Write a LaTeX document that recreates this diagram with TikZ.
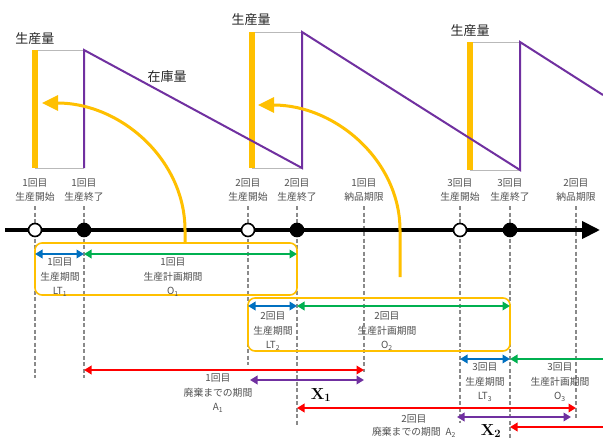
\documentclass[tikz,border=0pt]{standalone}
\usepackage{fontspec}
\newfontfamily\jp{Noto Sans CJK JP}
\usetikzlibrary{arrows.meta}
\definecolor{yel}{HTML}{FFC000}
\definecolor{pur}{HTML}{7030A0}
\definecolor{grn}{HTML}{00B050}
\definecolor{blu}{HTML}{0070C0}
\definecolor{rd}{HTML}{FF0000}
\definecolor{txtgray}{HTML}{505050}
\definecolor{qtygray}{HTML}{262626}
\definecolor{guidegray}{HTML}{8A8A8A}
\begin{document}
\begin{tikzpicture}[x=1pt,y=-1pt,
  lbl/.style={font=\jp\fontsize{9.8}{13.5}\selectfont, text=txtgray, align=center, inner sep=0pt},
  lbl3/.style={font=\jp\fontsize{9.8}{14.5}\selectfont, text=txtgray, align=center, inner sep=0pt},
  qty/.style={font=\jp\fontsize{13}{15}\selectfont, text=qtygray, inner sep=0pt},
  bigx/.style={font=\fontsize{16}{16}\selectfont\bfseries, text=black, inner sep=0pt},
  dot/.style={circle, draw=black, line width=1.6pt, minimum size=13pt, inner sep=0pt},
  opendot/.style={dot, fill=white},
  filldot/.style={dot, fill=black},
  guide/.style={draw=guidegray, line width=1.2pt, dash pattern=on 4pt off 2.5pt},
  bar/.style={draw=yel, line width=6pt},
  stock/.style={draw=pur, line width=2pt, line join=miter},
  thinline/.style={draw=gray!55, line width=0.8pt},
  span/.style={line width=2.5pt, {Triangle[length=7.5pt,width=8.5pt]}-{Triangle[length=7.5pt,width=8.5pt]}},
  lspan/.style={line width=2.5pt, -{Triangle[length=7.5pt,width=8.5pt]}},
  ybox/.style={draw=yel, line width=1.6pt, rounded corners=7pt},
  yarrow/.style={draw=yel, line width=3pt, -{Triangle[length=16pt,width=15pt]}},
]
\useasboundingbox[fill=white] (0,0) rectangle (603,439);

% ---------- top: production / stock graph ----------
\draw[thinline] (35,50) -- (84,50) (35,168) -- (84,168);
\draw[thinline] (252,32) -- (302,32) (252,168) -- (302,168);
\draw[thinline] (470,42) -- (520,42) (470,170) -- (520,170);
\draw[bar] (35,50) -- (35,168);
\draw[bar] (252,32) -- (252,168);
\draw[bar] (470,42) -- (470,170);
\draw[stock] (84,168) -- (84,50) -- (302,168) -- (302,32) -- (520,170) -- (520,42) -- (603,95);

\node[qty] (q1) at (35,39) {生産量};
\node[qty] (q2) at (251,20) {生産量};
\node[qty] (q3) at (470,31) {生産量};
\node[qty] (stk) at (167,77) {在庫量};

% ---------- labels above the axis ----------
\node[lbl] (t1) at (35,190) {1回目\\生産開始};
\node[lbl] (t2) at (84,190) {1回目\\生産終了};
\node[lbl] (t3) at (248,190) {2回目\\生産開始};
\node[lbl] (t4) at (297,190) {2回目\\生産終了};
\node[lbl] (t5) at (364,190) {1回目\\納品期限};
\node[lbl] (t6) at (460,190) {3回目\\生産開始};
\node[lbl] (t7) at (510,190) {3回目\\生産終了};
\node[lbl] (t8) at (576,190) {2回目\\納品期限};

% ---------- dashed guide lines ----------
\coordinate (g1a) at (35,206);  \coordinate (g1b) at (35,378);
\coordinate (g2a) at (84,206);  \coordinate (g2b) at (84,378);
\coordinate (g3a) at (248,206); \coordinate (g3b) at (248,365);
\coordinate (g4a) at (297,206); \coordinate (g4b) at (297,425);
\coordinate (g5a) at (364,206); \coordinate (g5b) at (364,372);
\coordinate (g6a) at (460,206); \coordinate (g6b) at (460,423);
\coordinate (g7a) at (510,206); \coordinate (g7b) at (510,439);
\coordinate (g8a) at (576,206); \coordinate (g8b) at (576,420);
\foreach \i in {1,...,8} { \draw[guide] (g\i a) -- (g\i b); }

% ---------- yellow boxes ----------
\draw[ybox] (35,243) rectangle (297,295);
\draw[ybox] (248,298) rectangle (510,351);

% ---------- time axis ----------
\coordinate (axs) at (5,230);
\coordinate (axe) at (600,230);
\draw[line width=4pt, -{Triangle[length=18pt,width=17pt]}] (axs) -- (axe);

\node[opendot] (d1) at (35,230) {};
\node[filldot] (d2) at (84,230) {};
\node[opendot] (d3) at (248,230) {};
\node[filldot] (d4) at (297,230) {};
\node[opendot] (d6) at (460,230) {};
\node[filldot] (d7) at (510,230) {};

% ---------- yellow curved arrows ----------
\coordinate (ya1s) at (185,243); \coordinate (ya1m) at (185,230); \coordinate (ya1e) at (42,103);
\coordinate (ya2s) at (400,277); \coordinate (ya2m) at (400,230); \coordinate (ya2e) at (258,105);
\draw[yarrow] (ya1s) -- (ya1m) .. controls (185,160) and (121,103) .. (ya1e);
\draw[yarrow] (ya2s) -- (ya2m) .. controls (400,161) and (336,105) .. (ya2e);

% ---------- period arrows ----------
\coordinate (b1a) at (35,254);  \coordinate (b1b) at (84,254);
\coordinate (n1a) at (84,254);  \coordinate (n1b) at (297,254);
\coordinate (b2a) at (248,306); \coordinate (b2b) at (297,306);
\coordinate (n2a) at (297,306); \coordinate (n2b) at (510,306);
\coordinate (b3a) at (460,359); \coordinate (b3b) at (510,359);
\coordinate (n3a) at (603,359); \coordinate (n3b) at (510,359);
\coordinate (r1a) at (84,370);  \coordinate (r1b) at (364,370);
\coordinate (p1a) at (250,380); \coordinate (p1b) at (364,380);
\coordinate (r2a) at (297,408); \coordinate (r2b) at (576,408);
\coordinate (p2a) at (457,417); \coordinate (p2b) at (571,417);
\coordinate (r3a) at (603,427); \coordinate (r3b) at (510,427);

\draw[span, draw=blu, fill=blu] (b1a) -- (b1b);
\draw[span, draw=grn, fill=grn] (n1a) -- (n1b);
\draw[span, draw=blu, fill=blu] (b2a) -- (b2b);
\draw[span, draw=grn, fill=grn] (n2a) -- (n2b);
\draw[span, draw=blu, fill=blu] (b3a) -- (b3b);
\draw[lspan, draw=grn, fill=grn] (n3a) -- (n3b);
\draw[span, draw=rd, fill=rd] (r1a) -- (r1b);
\draw[span, draw=pur, fill=pur] (p1a) -- (p1b);
\draw[span, draw=rd, fill=rd] (r2a) -- (r2b);
\draw[span, draw=pur, fill=pur] (p2a) -- (p2b);
\draw[lspan, draw=rd, fill=rd] (r3a) -- (r3b);

% ---------- period labels ----------
\node[lbl3] (lt1) at (60,277) {1回目\\生産期間\\LT\textsubscript{1}};
\node[lbl3] (o1) at (173,277) {1回目\\生産計画期間\\O\textsubscript{1}};
\node[lbl3] (lt2) at (273,331) {2回目\\生産期間\\LT\textsubscript{2}};
\node[lbl3] (o2) at (387,331) {2回目\\生産計画期間\\O\textsubscript{2}};
\node[lbl3] (lt3) at (485,382) {3回目\\生産期間\\LT\textsubscript{3}};
\node[lbl3] (o3) at (560,382) {3回目\\生産計画期間\\O\textsubscript{3}};
\node[lbl3] (a1) at (218,393) {1回目\\廃棄までの期間\\A\textsubscript{1}};
\node[lbl] (a2) at (414,426) {2回目\\廃棄までの期間\enspace A\textsubscript{2}};

\node[bigx] (x1) at (321,395) {X\textsubscript{1}};
\node[bigx] (x2) at (491,431) {X\textsubscript{2}};
\end{tikzpicture}
\end{document}
